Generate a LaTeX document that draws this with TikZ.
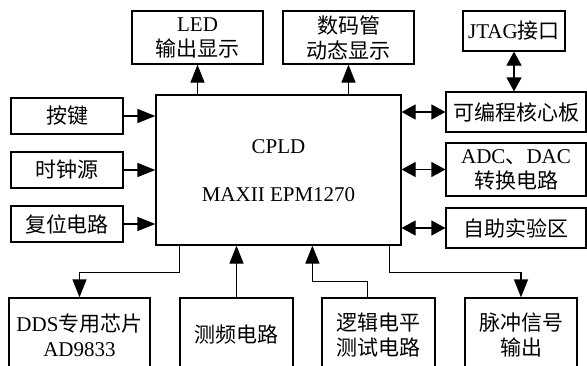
\documentclass[tikz,border=0pt]{standalone}
\usepackage{fontspec}
\setmainfont{Liberation Serif}
\newfontfamily\cjk{Noto Sans CJK SC}
\usetikzlibrary{arrows.meta,calc}
\begin{document}
\begin{tikzpicture}[x=1pt,y=-1pt,
  box/.style={draw, line width=1.2pt, inner sep=0pt, align=center,
    font=\fontsize{21}{25}\selectfont},
  arr/.style={line width=1.2pt, -{Triangle[length=18pt,width=14pt]}},
  dbl/.style={line width=1.2pt, {Triangle[length=14pt,width=15pt]}-{Triangle[length=14pt,width=15pt]}}]
\useasboundingbox (0,0) rectangle (587,365);
\clip (0,0) rectangle (587,365);
% top
\node[box, minimum width=131pt, minimum height=53pt] (led) at (197.5,37.5) {LED\\{\cjk 输出显示}};
\node[box, minimum width=131pt, minimum height=53pt] (smg) at (348.5,37.5) {{\cjk 数码管}\\{\cjk 动态显示}};
\node[box, minimum width=102pt, minimum height=40pt] (jtag) at (514,31) {JTAG{\cjk 接口}};
% right
\node[box, minimum width=140pt, minimum height=40pt] (core) at (516,112) {\cjk 可编程核心板};
\node[box, minimum width=140pt, minimum height=53pt] (adc) at (516,169.5) {ADC{\cjk 、}DAC\\{\cjk 转换电路}};
\node[box, minimum width=140pt, minimum height=40pt] (self) at (516,228) {\cjk 自助实验区};
% left
\node[box, minimum width=112pt, minimum height=36pt] (key) at (67,116) {\cjk 按键};
\node[box, minimum width=112pt, minimum height=36pt] (clk) at (67,170) {\cjk 时钟源};
\node[box, minimum width=112pt, minimum height=36pt] (rst) at (67,224) {\cjk 复位电路};
% center
\node[box, minimum width=245pt, minimum height=150pt] (cpld) at (278.5,170) {};
\node[font=\fontsize{21}{25}\selectfont] (t1) at (278.5,147) {CPLD};
\node[font=\fontsize{21}{25}\selectfont] (t2) at (278.5,195) {MAXII EPM1270};
% bottom
\node[box, minimum width=141pt, minimum height=74pt] (dds) at (79.5,335) {DDS{\cjk 专用芯片}\\AD9833};
\node[box, minimum width=113pt, minimum height=74pt] (freq) at (236.5,335) {\cjk 测频电路};
\node[box, minimum width=113pt, minimum height=74pt] (logic) at (378.5,335) {{\cjk 逻辑电平}\\{\cjk 测试电路}};
\node[box, minimum width=112pt, minimum height=74pt] (pulse) at (521,335) {{\cjk 脉冲信号}\\{\cjk 输出}};
% connectors
\draw[arr] (led.south |- cpld.north) -- (led.south);
\draw[arr] (smg.south |- cpld.north) -- (smg.south);
\draw[dbl] (jtag.south) -- (jtag.south |- core.north);
\draw[arr] (key.east) -- (key.east -| cpld.west);
\draw[arr] (clk.east) -- (clk.east -| cpld.west);
\draw[arr] (rst.east) -- (rst.east -| cpld.west);
\draw[dbl] (core.west -| cpld.east) -- (core.west);
\draw[dbl] (adc.west -| cpld.east) -- (adc.west);
\draw[dbl] (self.west -| cpld.east) -- (self.west);
\coordinate (c1) at ($(cpld.south west)+(24,0)$);
\draw[arr] (c1) -- ($(c1)+(0,27)$) -| (dds.north);
\draw[arr] (freq.north) -- (freq.north |- cpld.south);
\coordinate (l1) at ($(logic.north)+(-11,0)$);
\coordinate (c2) at ($(cpld.south west)+(157,0)$);
\draw[arr] (l1) -- ($(l1)+(0,-16)$) -| (c2);
\coordinate (c3) at ($(cpld.south west)+(234,0)$);
\draw[arr] (c3) -- ($(c3)+(0,27)$) -| (pulse.north);
\end{tikzpicture}
\end{document}
